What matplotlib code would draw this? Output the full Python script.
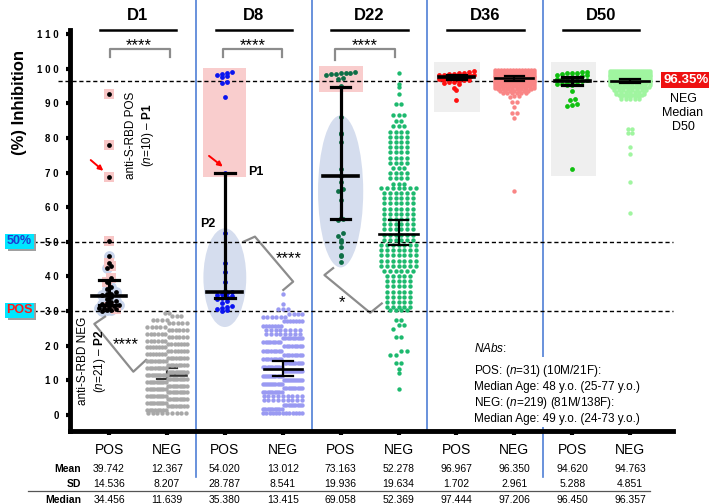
import numpy as np
import matplotlib
matplotlib.use("Agg")
import matplotlib.pyplot as plt
from matplotlib.transforms import blended_transform_factory
from matplotlib.patches import Rectangle, Ellipse
from matplotlib.lines import Line2D

plt.rcParams['font.family'] = ['Liberation Sans', 'DejaVu Sans']
plt.rcParams['mathtext.fontset'] = 'custom'
plt.rcParams['mathtext.rm'] = 'Liberation Sans'
plt.rcParams['mathtext.it'] = 'Liberation Sans:italic'
plt.rcParams['mathtext.bf'] = 'Liberation Sans:bold'

# ---------------- data ----------------
days = ["D1", "D8", "D22", "D36", "D50"]
group_labels = ["POS", "NEG", "POS", "NEG", "POS", "NEG", "POS", "NEG", "POS", "NEG"]
ytick_values = [0, 10, 20, 30, 40, 50, 60, 70, 80, 90, 100, 110]
ytick_labels = ["0", "1 0", "2 0", "3 0", "4 0", "5 0", "6 0", "7 0", "8 0", "9 0", "1 0 0", "1 1 0"]

# POS groups: P1 (anti-S-RBD POS, highlighted) and P2 (anti-S-RBD NEG)
d1_pos_p1 = [92.7, 78.0, 68.6, 50.2, 44.0, 43.0, 39.5, 38.5, 31.2, 30.5]
d1_pos_p2 = [45.8, 42.5, 37.0, 36.5, 35.5, 35.0, 34.8, 34.5, 34.0, 33.5, 33.0,
             32.5, 32.2, 32.0, 31.8, 31.5, 31.0, 30.8, 30.4, 30.2, 30.1]
d8_pos_p1 = [98.9, 98.8, 98.5, 98.2, 97.8, 97.5, 96.2, 95.8, 91.7, 70.0]
d8_pos_p2 = [52.5, 43.9, 41.2, 38.4, 35.8, 35.4, 35.2, 35.0, 34.7, 34.4, 34.1,
             33.8, 33.5, 32.8, 32.2, 31.6, 31.2, 30.9, 30.6, 30.3, 30.0]
d22_pos_p1 = [98.9, 98.8, 98.7, 98.6, 98.5, 98.4, 98.3, 97.4, 97.0, 95.0]
d22_pos_p2 = [86.0, 81.5, 81.0, 78.8, 71.1, 69.1, 67.2, 65.2, 64.8, 62.2, 56.8,
              56.5, 56.2, 52.4, 51.6, 50.4, 49.9, 48.5, 46.3, 45.9, 44.2]
d36_pos = [99.3, 99.0, 98.8, 98.6, 98.5, 98.4, 98.3, 98.2, 98.1, 98.0, 97.9,
           97.8, 97.7, 97.6, 97.5, 97.44, 97.3, 97.2, 97.1, 97.0, 96.9, 96.8,
           96.6, 96.4, 96.2, 96.0, 95.8, 95.5, 94.5, 93.8, 90.8]
d50_pos = [99.0, 98.9, 98.8, 98.7, 98.6, 98.5, 98.3, 98.1, 97.9, 97.7, 97.5,
           97.3, 97.1, 96.9, 96.7, 96.45, 96.3, 96.1, 95.9, 95.7, 95.6, 95.4,
           95.2, 95.5, 93.5, 91.3, 91.0, 89.8, 89.4, 89.2, 71.1]

d1_neg_levels = [0.5, 1.5, 2.5, 3.5, 4.5, 5.5, 6.5, 7.5, 8.5, 9.5, 10.5, 11.5, 12.5, 13.5, 14.5,
                 15.5, 16.5, 17.5, 18.5, 19.5, 20.5, 21.5, 22.5, 23.5, 24.5, 25.5, 26.5, 27.5, 28.5, 29.5]
d1_neg_counts = [9, 8, 8, 9, 9, 9, 9, 9, 9, 9, 9, 10, 9, 8, 8,
                 8, 8, 7, 7, 7, 7, 6, 6, 6, 6, 5, 5, 4, 3, 2]
d8_neg_levels = [34.8, 32.0, 30.5, 29.3, 28.2, 27.0, 25.8, 24.6, 23.4, 22.2, 21.0, 19.8, 18.6, 17.4,
                 16.2, 15.0, 13.8, 12.6, 11.4, 10.2, 9.0, 7.8, 6.6, 5.4, 4.2, 3.0, 1.8, 0.5]
d8_neg_counts = [1, 1, 3, 4, 6, 7, 7, 8, 8, 9, 8, 8, 8, 8,
                 8, 9, 9, 10, 10, 10, 10, 9, 9, 9, 9, 9, 9, 13]
d22_neg_levels = [98.6, 95.5, 94.6, 92.7, 89.9, 86.5, 85.0,
                  83.3, 81.8, 80.3, 78.8, 77.3, 75.8, 74.3, 72.8, 71.3, 69.8, 68.3, 66.8,
                  65.6, 64.1, 62.6, 61.1, 59.6, 58.1, 56.6, 55.1, 53.6, 52.1, 50.6,
                  49.1, 47.6, 46.1, 44.6, 43.1, 41.6, 40.1, 38.6, 37.1, 35.6, 34.1, 32.6, 31.1, 30.2,
                  27.4, 25.9, 24.8, 22.6, 18.5, 17.3, 15.0, 13.2, 12.2, 7.5]
d22_neg_counts = [1, 1, 1, 1, 2, 3, 2,
                  3, 4, 4, 4, 4, 4, 4, 4, 3, 4, 4, 3,
                  7, 6, 6, 6, 6, 6, 6, 6, 6, 6, 6,
                  7, 7, 7, 7, 7, 6, 5, 5, 5, 5, 5, 5, 5, 4,
                  2, 2, 1, 2, 2, 2, 2, 1, 1, 1]
d36_neg_levels = [99.5, 99.0, 98.5, 98.0, 97.5, 97.0, 96.5, 96.0, 95.5, 95.0, 94.5, 94.0, 93.5, 93.0,
                  92.0, 91.9, 90.3, 88.9, 87.1, 85.8, 64.8]
d36_neg_counts = [14, 20, 20, 22, 22, 20, 18, 16, 14, 12, 10, 8, 7, 6,
                  2, 1, 2, 1, 2, 1, 1]
d50_neg_levels = [99.3, 98.8, 98.3, 97.8, 97.3, 96.8, 96.3, 95.8, 95.3, 94.8, 94.3, 93.8, 93.3, 92.8,
                  92.3, 91.8, 91.3, 82.5, 81.5, 77.3, 75.4, 67.4, 58.4]
d50_neg_counts = [21, 23, 22, 20, 18, 16, 14, 12, 10, 9, 8, 8, 7, 7,
                  6, 5, 5, 2, 2, 1, 1, 1, 1]

# summary table
means = [39.742, 12.367, 54.020, 13.012, 73.163, 52.278, 96.967, 96.350, 94.620, 94.763]
sds = [14.536, 8.207, 28.787, 8.541, 19.936, 19.634, 1.702, 2.961, 5.288, 4.851]
medians = [34.456, 11.639, 35.380, 13.415, 69.058, 52.369, 97.444, 97.206, 96.450, 96.357]
# error bar caps
bar_lo = [31.7, 10.5, 33.8, 11.2, 56.5, 49.0, 96.9, 96.4, 95.3, 95.8]
bar_hi = [39.1, 13.5, 70.0, 15.5, 94.8, 56.2, 98.2, 97.9, 97.6, 97.0]
neg_median_d50 = 96.35

pos_colors = ['black', '#0a14f0', '#0e6e46', '#ff1010', '#10c010']
neg_colors = ['#a8a8a8', '#9a9af2', '#1db96e', '#f98585', '#a0f5a0']

# ---------------- figure ----------------
W, H = 709, 504
fig = plt.figure(figsize=(W / 100, H / 100), dpi=100)
ax = fig.add_axes([70 / W, 1 - 431 / H, (673 - 70) / W, (431 - 30) / H])
tx = blended_transform_factory(ax.transData, fig.transFigure)


def fy(py):
    return 1 - py / H


def fx(px):
    return px / W


def swarm_x(vals, h, sp, maxw):
    vals = np.asarray(vals, float)
    keys = np.round(vals / h).astype(int)
    off = np.zeros(len(vals))
    for k in np.unique(keys):
        idx = np.where(keys == k)[0]
        n = len(idx)
        if n > 1:
            s = min(sp, maxw / (n - 1))
            idx = idx[np.argsort(vals[idx], kind='stable')]
            off[idx] = (np.arange(n) - (n - 1) / 2) * s
    return off


pos_sets = [(d1_pos_p1, d1_pos_p2), (d8_pos_p1, d8_pos_p2), (d22_pos_p1, d22_pos_p2),
            ([], d36_pos), ([], d50_pos)]
neg_sets = [(d1_neg_levels, d1_neg_counts), (d8_neg_levels, d8_neg_counts),
            (d22_neg_levels, d22_neg_counts), (d36_neg_levels, d36_neg_counts),
            (d50_neg_levels, d50_neg_counts)]
neg_h = [1.0, 1.2, 1.5, 0.5, 0.5]
neg_sp = [0.083, 0.083, 0.1, 0.08, 0.08]

# background highlight regions
ax.add_patch(Rectangle((1.62, 68.6), 0.75, 31.7, fc='#f9cdcd', ec='none', zorder=0.5))
ax.add_patch(Ellipse((2.0, 39.65), 0.74, 28.5, fc='#d5ddee', ec='none', zorder=0.5))
ax.add_patch(Rectangle((3.63, 93.2), 0.76, 7.7, fc='#f9cdcd', ec='none', zorder=0.5))
ax.add_patch(Ellipse((4.0, 64.55), 0.78, 43.9, fc='#d5ddee', ec='none', zorder=0.5))
ax.add_patch(Rectangle((5.61, 87.4), 0.8, 14.4, fc='#efefef', ec='none', zorder=0.5))
ax.add_patch(Rectangle((7.63, 68.9), 0.78, 32.9, fc='#efefef', ec='none', zorder=0.5))

for i in range(5):
    xp = 2 * i
    p1, p2 = pos_sets[i]
    vals = np.array(list(p1) + list(p2), float)
    off = swarm_x(vals, 1.3, 0.085, 0.6)
    n1 = len(p1)
    if i == 0:
        ax.scatter(xp + off[n1:], vals[n1:], s=60, c='#c9d5ec', lw=0, zorder=1)
        ax.scatter(xp + off[:n1], vals[:n1], s=55, marker='s', c='#f8c6c6', lw=0, zorder=1.2)
    ax.scatter(xp + off, vals, s=12, c=pos_colors[i], lw=0, zorder=3)

    xn = 2 * i + 1
    lev, cnt = neg_sets[i]
    nv = np.repeat(np.array(lev, float), np.array(cnt))
    noff = swarm_x(nv, neg_h[i], neg_sp[i], 0.68)
    ax.scatter(xn + noff, nv, s=10, c=neg_colors[i], lw=0, zorder=3)

# median + interval bars
for j in range(10):
    is_pos = (j % 2 == 0)
    lw = 2.3 if is_pos else 1.6
    hw_m = 0.3 if is_pos else 0.33
    hw_c = 0.17
    z = 2 if j == 1 else 4
    col = 'black' if j != 1 else '#333333'
    ax.plot([j, j], [bar_lo[j], bar_hi[j]], color=col, lw=lw, zorder=z, solid_capstyle='butt')
    ax.plot([j - hw_m, j + hw_m], [medians[j], medians[j]], color=col, lw=lw + 0.3, zorder=z)
    ax.plot([j - hw_c, j + hw_c], [bar_lo[j], bar_lo[j]], color=col, lw=lw, zorder=z)
    ax.plot([j - hw_c, j + hw_c], [bar_hi[j], bar_hi[j]], color=col, lw=lw, zorder=z)

# dashed reference lines
dash = (0, (3, 2))
ax.plot([-0.88, 9.6], [neg_median_d50, neg_median_d50], color='black', lw=1, ls=dash,
        zorder=2.5, clip_on=False)
ax.plot([-1.31, 9.74], [50, 50], color='black', lw=1, ls=dash, zorder=2.5, clip_on=False)
ax.plot([-1.31, 9.74], [30, 30], color='black', lw=1, ls=dash, zorder=2.5, clip_on=False)

# blue separators
for xb, pb in zip([1.5, 3.5, 5.5, 7.5], [477, 431, 431, 477]):
    ax.add_line(Line2D([xb, xb], [fy(0), fy(pb)], transform=tx, color='#4f7fd6', lw=1.2,
                       clip_on=False, zorder=0.8))

# significance brackets
gray = '#8c8c8c'
for xl, xr, yl, yr in [(0.02, 1.05, 103.4, 103.4), (1.96, 2.98, 103.4, 103.4), (3.9, 4.94, 102.6, 103.3)]:
    ax.plot([xl, xl, xr, xr], [yl, 105.7, 105.7, yr], color=gray, lw=1.6, clip_on=False, zorder=2)
for xs in [0.52, 2.48, 4.42]:
    ax.text(xs, 105.2, '****', ha='center', va='baseline', fontsize=12, clip_on=False)
ax.plot([-0.069, -0.254, 0.42, 0.64], [28.4, 26.3, 12.5, 15.9], color=gray, lw=1.6, zorder=2)
ax.text(0.29, 19.0, '****', ha='center', va='baseline', fontsize=12)
ax.plot([2.32, 2.52, 3.18, 3.01], [50.0, 51.5, 38.5, 36.1], color=gray, lw=1.6, zorder=2)
ax.text(3.11, 43.9, '****', ha='center', va='baseline', fontsize=12)
ax.plot([3.87, 3.72, 4.51, 4.71], [42.4, 40.4, 29.5, 32.2], color=gray, lw=1.6, zorder=2)
ax.text(4.02, 31.2, '*', ha='center', va='baseline', fontsize=12)

# annotations
ax.text(0.55, 80.8, 'anti-S-RBD POS\n($\\it{n}$=10) – $\\bf{P1}$', rotation=90, ha='center',
        va='center', fontsize=8.5, linespacing=1.25)
ax.text(-0.29, 15.6, 'anti-S-RBD NEG\n($\\it{n}$=21) – $\\bf{P2}$', rotation=90, ha='center',
        va='center', fontsize=8.5, linespacing=1.25)
ax.text(2.40, 70.2, 'P1', ha='left', va='center', fontsize=9, weight='bold')
ax.text(1.58, 55.1, 'P2', ha='left', va='center', fontsize=9, weight='bold')
arrow = dict(arrowstyle='-|>', color='red', lw=1.4, mutation_scale=7, shrinkA=0, shrinkB=0)
ax.annotate('', xy=(-0.098, 70.5), xytext=(-0.316, 73.6), arrowprops=arrow)
ax.annotate('', xy=(1.964, 71.7), xytext=(1.727, 74.8), arrowprops=arrow)

# axes styling
ax.set_xlim(-0.674, 9.74)
ax.set_ylim(-4.62, 111.15)
for s in ['top', 'right']:
    ax.spines[s].set_visible(False)
ax.spines['left'].set_linewidth(3.5)
ax.spines['bottom'].set_linewidth(3.5)
ax.set_yticks(ytick_values)
ax.set_yticklabels(ytick_labels, fontsize=7, fontweight='bold')
ax.tick_params(axis='y', length=3, width=3, pad=5)
ax.set_xticks(range(10))
ax.set_xticklabels([])
ax.tick_params(axis='x', length=3, width=3)

# titles
for i, d in enumerate(days):
    c = 2 * i + 0.5
    ax.text(c, fy(16), d, transform=tx, ha='center', va='center', fontsize=12, weight='bold')
    ax.add_line(Line2D([c - 0.66, c + 0.66], [fy(30), fy(30)], transform=tx, color='black',
                       lw=1.8, clip_on=False))

# category labels and table
for j in range(10):
    ax.text(j, fy(450), group_labels[j], transform=tx, ha='center', va='center', fontsize=10)
    ax.text(j, fy(469), f"{means[j]:.3f}", transform=tx, ha='center', va='center', fontsize=7.5)
    ax.text(j, fy(484), f"{sds[j]:.3f}", transform=tx, ha='center', va='center', fontsize=7.5)
    ax.text(j, fy(500), f"{medians[j]:.3f}", transform=tx, ha='center', va='center', fontsize=7.5)
for lab, py in [('Mean', 469), ('SD', 484), ('Median', 500)]:
    fig.text(fx(81), fy(py), lab, ha='right', va='center', fontsize=7.5, weight='bold')
fig.add_artist(Line2D([fx(28), fx(650)], [fy(491), fy(491)], transform=fig.transFigure,
                      color='#555555', lw=0.9))

# y label and threshold tags (with a drop shadow patch)
fig.text(fx(20), fy(103), '(%) Inhibition', rotation=90, ha='center', va='center',
         fontsize=12, weight='bold')
for txt, py, col in [('50%', 241, '#1e3cd2'), ('POS', 310, '#ff1a1a')]:
    fig.add_artist(Rectangle((fx(8), fy(py + 10)), 28 / W, 17 / H, transform=fig.transFigure,
                             fc='#a0a0a0', ec='none', zorder=5))
    fig.text(fx(19.5), fy(py), txt, ha='center', va='center', fontsize=9, weight='bold',
             color=col, bbox=dict(boxstyle='square,pad=0.12', fc='#00e6ff', ec='none'), zorder=6)

fig.text(fx(686), fy(80), '96.35%', ha='center', va='center', color='white', weight='bold',
         fontsize=9.5, bbox=dict(boxstyle='square,pad=0.15', fc='#ee1111', ec='none'), zorder=6)
fig.text(fx(683), fy(113), 'NEG\nMedian\nD50', ha='center', va='center', fontsize=9,
         linespacing=1.25, zorder=6)

# NAbs box
fig.add_artist(Rectangle((fx(468), fy(427)), (650 - 468) / W, (427 - 357) / H,
                         transform=fig.transFigure, fc='white', ec='none', zorder=5))
nabs_lines = [('$\\it{NAbs}$:', 348),
              ('POS: ($\\it{n}$=31) (10M/21F):', 371),
              ('Median Age: 48 y.o. (25-77 y.o.)', 387),
              ('NEG: ($\\it{n}$=219) (81M/138F):', 403),
              ('Median Age: 49 y.o. (24-73 y.o.)', 419)]
for t, py in nabs_lines:
    fig.text(fx(474), fy(py), t, ha='left', va='center', fontsize=8.5, zorder=6)

fig.savefig('out.png', dpi=100)
